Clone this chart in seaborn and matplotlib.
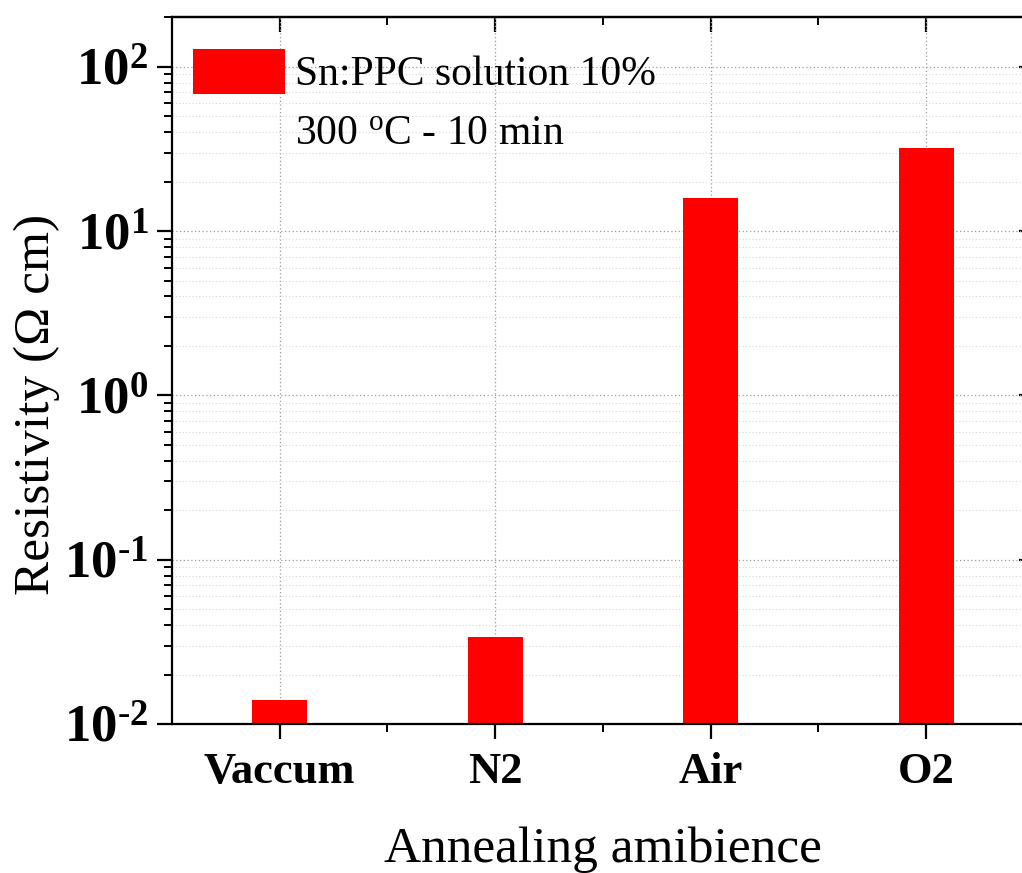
import matplotlib
matplotlib.use("Agg")
import matplotlib.pyplot as plt
from matplotlib.patches import Patch
from matplotlib.ticker import FixedLocator, LogLocator, NullFormatter
import pandas as pd
import seaborn as sns

# data
ambience = ["Vaccum", "N2", "Air", "O2"]
resistivity = [0.014, 0.034, 16.0, 32.0]
decades = [1e-2, 1e-1, 1e0, 1e1, 1e2]
decade_labels = [r"$\mathbf{10^{\text{-}2}}$", r"$\mathbf{10^{\text{-}1}}$", r"$\mathbf{10^{0}}$",
                 r"$\mathbf{10^{1}}$", r"$\mathbf{10^{2}}$"]
legend_label = "Sn:PPC solution 10%"
note = r"300 $^{\rm o}$C - 10 min"


def main():
    sns.set_style("ticks")
    plt.rcParams["font.family"] = ["Liberation Serif", "DejaVu Serif"]
    plt.rcParams["mathtext.fontset"] = "custom"
    plt.rcParams["mathtext.rm"] = "Liberation Serif"
    plt.rcParams["mathtext.it"] = "Liberation Serif:italic"
    plt.rcParams["mathtext.bf"] = "Liberation Serif:bold"
    for key in ["text.color", "axes.labelcolor", "xtick.color", "ytick.color",
                "axes.edgecolor", "xtick.labelcolor", "ytick.labelcolor"]:
        plt.rcParams[key] = "black"

    df = pd.DataFrame({"ambience": ambience, "resistivity": resistivity})

    fig = plt.figure(figsize=(10.22, 8.73), dpi=100)
    ax = fig.add_axes([0.1683, 0.1707, 0.8434, 0.8102])
    ax.set_axisbelow(True)

    sns.barplot(data=df, x="ambience", y="resistivity", color="#ff0000",
                saturation=1, width=0.256, ax=ax, edgecolor="none")
    ax.set_yscale("log")
    ax.set_ylim(0.01, 202)
    ax.set_xlim(-0.5, 3.5)

    # ticks
    ax.yaxis.set_major_locator(FixedLocator(decades))
    ax.set_yticklabels(decade_labels)
    ax.yaxis.set_minor_locator(LogLocator(base=10, subs=range(2, 10), numticks=20))
    ax.yaxis.set_minor_formatter(NullFormatter())
    ax.set_xticks(range(len(ambience)))
    ax.set_xticklabels(ambience, fontweight="bold", fontsize=32)
    ax.set_xticks([0.5, 1.5, 2.5], minor=True)
    ax.tick_params(axis="y", which="major", labelsize=38, length=11, width=1.6, pad=6,
                   direction="out")
    ax.tick_params(axis="y", which="minor", length=6, width=1.4, direction="out")
    ax.tick_params(axis="x", which="major", length=11, width=1.6, pad=9, direction="out")
    ax.tick_params(axis="x", which="minor", length=5.5, width=1.4, direction="out")

    top = ax.secondary_xaxis("top")
    top.set_xticks(range(len(ambience)))
    top.set_xticks([0.5, 1.5, 2.5], minor=True)
    top.set_xticklabels([])
    top.tick_params(which="major", direction="in", length=11, width=1.6)
    top.tick_params(which="minor", direction="in", length=5.5, width=1.4)

    right = ax.secondary_yaxis("right")
    right.yaxis.set_major_locator(FixedLocator(decades))
    right.yaxis.set_minor_locator(LogLocator(base=10, subs=range(2, 10), numticks=20))
    right.yaxis.set_major_formatter(NullFormatter())
    right.yaxis.set_minor_formatter(NullFormatter())
    right.tick_params(which="major", direction="in", length=11, width=1.6)
    right.tick_params(which="minor", direction="in", length=6, width=1.4)

    for s in ax.spines.values():
        s.set_linewidth(1.6)
    for a in (top, right):
        for s in a.spines.values():
            s.set_linewidth(1.6)

    # grid
    ax.grid(which="major", axis="both", linestyle=(0, (1, 2)), color="#9a9a9a", linewidth=0.9)
    ax.grid(which="minor", axis="y", linestyle=(0, (1, 2)), color="#d8d8d8", linewidth=0.8)

    ax.set_xlabel("Annealing amibience", fontsize=37, labelpad=25)
    ax.set_ylabel("Resistivity (\u03a9 cm)", fontsize=37)
    ax.yaxis.set_label_coords(-0.13, 0.452)

    handle = Patch(facecolor="#ff0000", edgecolor="none")
    ax.legend([handle], [legend_label], loc="upper left", bbox_to_anchor=(0.0, 0.984),
              frameon=False, fontsize=30, handlelength=2.2, handleheight=1.3,
              handletextpad=0.24, borderaxespad=0.1, borderpad=0.4)
    ax.text(0.1427, 0.835, note, transform=ax.transAxes, fontsize=30, va="center", ha="left")

    fig.savefig("out.png", dpi=100)


if __name__ == "__main__":
    main()
